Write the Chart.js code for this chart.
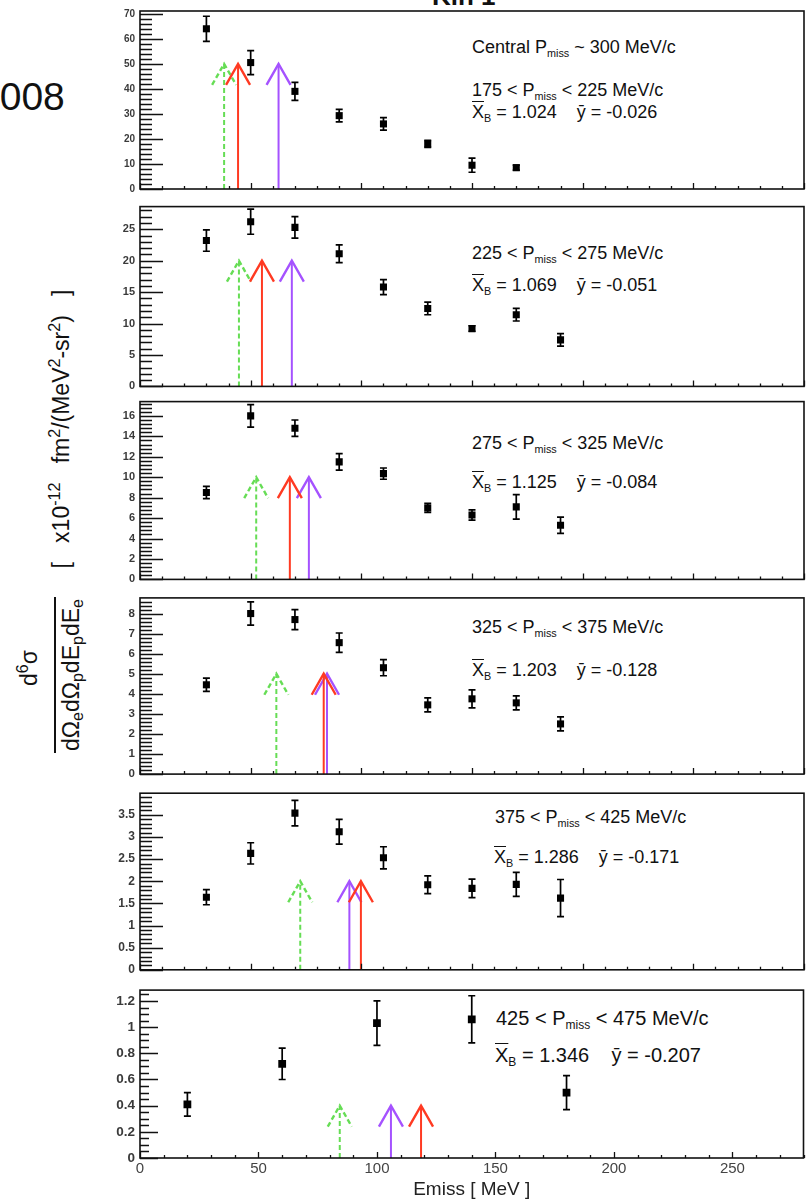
<!DOCTYPE html>
<html>
<head>
<meta charset="utf-8">
<script src="https://cdn.jsdelivr.net/npm/chart.js@4.4.1/dist/chart.umd.min.js"></script>
<style>
html, body { margin: 0; padding: 0; background: #fff; overflow: hidden; }
body { width: 809px; height: 1199px; position: relative; font-family: 'Liberation Sans', Arial, sans-serif; color: #111; }
canvas { position: absolute; }
.t { position: absolute; white-space: nowrap; line-height: 1; }
.t sub { font-size: 60%; vertical-align: -0.35em; line-height: 0; }
.rot sub { font-size: 70%; vertical-align: -0.3em; line-height: 0; }
.rot sup { font-size: 70%; vertical-align: 0.55em; line-height: 0; }
.ov { text-decoration: overline; text-decoration-thickness: 1px; }
.rot { position: absolute; white-space: nowrap; line-height: 1; transform: translate(-50%, -50%) rotate(-90deg); }
</style>
</head>
<body>

<div class="t" style="left:-22px;top:77px;font-size:39px;">2008</div>
<div class="t" style="left:432px;top:-17px;font-size:26px;font-weight:bold;">Kin 1</div>

<!-- y axis title -->
<div class="rot" style="left:61px;top:429px;font-size:23px;">[&nbsp;&nbsp;&nbsp;x10<sup>-12</sup>&nbsp;&nbsp;&nbsp;fm<sup>2</sup>/(MeV<sup>2</sup>-sr<sup>2</sup>)&nbsp;&nbsp;&nbsp;]</div>
<div class="rot" style="left:29px;top:668px;font-size:23px;">d<sup>6</sup>&sigma;</div>
<div style="position:absolute;left:54px;top:597px;width:1.6px;height:156px;background:#111;"></div>
<div class="rot" style="left:71px;top:675px;font-size:23px;">d&Omega;<sub>e</sub>d&Omega;<sub>p</sub>dE<sub>p</sub>dE<sub>e</sub></div>

<!-- panel notes -->
<div class="t" style="left:472px;top:38px;font-size:18px;">Central P<sub>miss</sub> ~ 300 MeV/c</div>
<div class="t" style="left:472px;top:81px;font-size:18px;">175 &lt; P<sub>miss</sub> &lt; 225 MeV/c</div>
<div class="t" style="left:472px;top:103px;font-size:18px;"><span class="ov">X</span><sub>B</sub> = 1.024&nbsp;&nbsp;&nbsp;&nbsp;&#563; = -0.026</div>

<div class="t" style="left:472px;top:244px;font-size:18px;">225 &lt; P<sub>miss</sub> &lt; 275 MeV/c</div>
<div class="t" style="left:472px;top:276px;font-size:18px;"><span class="ov">X</span><sub>B</sub> = 1.069&nbsp;&nbsp;&nbsp;&nbsp;&#563; = -0.051</div>

<div class="t" style="left:472px;top:434px;font-size:18px;">275 &lt; P<sub>miss</sub> &lt; 325 MeV/c</div>
<div class="t" style="left:472px;top:473px;font-size:18px;"><span class="ov">X</span><sub>B</sub> = 1.125&nbsp;&nbsp;&nbsp;&nbsp;&#563; = -0.084</div>

<div class="t" style="left:472px;top:618px;font-size:18px;">325 &lt; P<sub>miss</sub> &lt; 375 MeV/c</div>
<div class="t" style="left:472px;top:661px;font-size:18px;"><span class="ov">X</span><sub>B</sub> = 1.203&nbsp;&nbsp;&nbsp;&nbsp;&#563; = -0.128</div>

<div class="t" style="left:495px;top:808px;font-size:18px;">375 &lt; P<sub>miss</sub> &lt; 425 MeV/c</div>
<div class="t" style="left:494px;top:848px;font-size:18px;"><span class="ov">X</span><sub>B</sub> = 1.286&nbsp;&nbsp;&nbsp;&nbsp;&#563; = -0.171</div>

<div class="t" style="left:496px;top:1008px;font-size:20px;">425 &lt; P<sub>miss</sub> &lt; 475 MeV/c</div>
<div class="t" style="left:495px;top:1045px;font-size:20px;"><span class="ov">X</span><sub>B</sub> = 1.346&nbsp;&nbsp;&nbsp;&nbsp;&#563; = -0.207</div>

<script>
// Emiss values of the points (MeV)
const upperX = [30, 50, 70, 90, 110, 130, 150, 170, 190];
const lowerX = [20, 60, 100, 140, 180];

// cross sections, one pair of arrays per Pmiss bin
const p1Val = [64, 50.5, 39, 29.3, 26, 18, 9.5, 8.5];
const p1Err = [5, 4.8, 3.6, 2.5, 2.5, 1.4, 2.8, 1.0];
const p2Val = [23.2, 26.2, 25.3, 21.1, 15.8, 12.4, 9.2, 11.4, 7.4];
const p2Err = [1.7, 2.0, 1.7, 1.4, 1.2, 1.0, 0.45, 1.0, 1.0];
const p3Val = [8.5, 16.0, 14.8, 11.5, 10.35, 7.0, 6.3, 7.1, 5.3];
const p3Err = [0.6, 1.1, 0.8, 0.8, 0.55, 0.45, 0.5, 1.2, 0.8];
const p4Val = [4.45, 8.0, 7.7, 6.55, 5.3, 3.45, 3.75, 3.55, 2.5];
const p4Err = [0.33, 0.58, 0.5, 0.48, 0.4, 0.35, 0.45, 0.35, 0.35];
const p5Val = [1.64, 2.63, 3.54, 3.12, 2.53, 1.92, 1.84, 1.93, 1.62];
const p5Err = [0.17, 0.24, 0.29, 0.28, 0.25, 0.2, 0.21, 0.27, 0.42];
const p6Val = [0.41, 0.72, 1.03, 1.06, 0.5];
const p6Err = [0.09, 0.12, 0.17, 0.18, 0.13];

// arrow positions (Emiss) and arrow heights
const greenArrow = [38, 44.7, 52.5, 61.6, 72.4, 84.3];
const redArrow = [44.3, 55.1, 67.7, 83, 99.8, 118.6];
const purpleArrow = [62.6, 68.6, 76.3, 84.5, 94.6, 105.9];
const arrowTip = [50, 20, 10, 5, 2, 0.4];

// axes
const yMax = [71.1, 28.6, 17.4, 8.78, 3.99, 1.283];
const yTicks = [
    [0, 10, 20, 30, 40, 50, 60, 70],
    [0, 5, 10, 15, 20, 25],
    [0, 2, 4, 6, 8, 10, 12, 14, 16],
    [0, 1, 2, 3, 4, 5, 6, 7, 8],
    [0, 0.5, 1, 1.5, 2, 2.5, 3, 3.5],
    [0, 0.2, 0.4, 0.6, 0.8, 1, 1.2]
];
const yMinor = [2, 1, 0.4, 0.2, 0.1, 0.05];
const xTicks = [0, 50, 100, 150, 200, 250];
const xMaxUpper = 300;
const xMaxLower = 280;

const panelX = [upperX, upperX, upperX, upperX, upperX, lowerX];
const panelVal = [p1Val, p2Val, p3Val, p4Val, p5Val, p6Val];
const panelErr = [p1Err, p2Err, p3Err, p4Err, p5Err, p6Err];

// layout: frame top / bottom of each pad in page pixels
const frames = [[10, 198], [205, 396], [400, 589], [596, 784], [791, 980], [987, 1158]];
const labelSize = [10, 11, 11, 11.5, 12, 13.5];

function drawArrow(ctx, x, yBase, yTip, color, dashed) {
    ctx.save();
    ctx.strokeStyle = color;
    ctx.lineWidth = 2;
    ctx.setLineDash(dashed ? [5, 3] : []);
    ctx.beginPath();
    ctx.moveTo(x, yBase);
    ctx.lineTo(x, yTip);
    ctx.stroke();
    ctx.lineWidth = 2.4;
    ctx.beginPath();
    ctx.moveTo(x - 12, yTip + 21);
    ctx.lineTo(x, yTip);
    ctx.lineTo(x + 12, yTip + 21);
    ctx.stroke();
    ctx.restore();
}

function makePanel(i) {
    const last = i === 5;
    const top = frames[i][0], bottom = frames[i][1];
    const padTop = 10;
    const xAxisH = last ? 43 : 0;
    const padBottom = last ? 0 : 2;
    const canvas = document.createElement('canvas');
    canvas.width = 709;
    canvas.height = bottom - top + padTop + xAxisH + padBottom;
    canvas.style.left = '100px';
    canvas.style.top = (top - padTop) + 'px';
    document.body.appendChild(canvas);

    const xs = panelX[i], vals = panelVal[i], errs = panelErr[i];

    const rootStyle = {
        id: 'rootStyle' + i,
        afterDatasetsDraw(chart) {
            const ctx = chart.ctx;
            const sx = chart.scales.x, sy = chart.scales.y;
            const area = chart.chartArea;

            // error bars
            ctx.save();
            ctx.strokeStyle = '#000';
            ctx.lineWidth = 1.7;
            xs.forEach((x, k) => {
                if (vals[k] === undefined) return;
                const px = sx.getPixelForValue(x);
                const hi = sy.getPixelForValue(vals[k] + errs[k]);
                const lo = sy.getPixelForValue(vals[k] - errs[k]);
                ctx.beginPath();
                ctx.moveTo(px, hi); ctx.lineTo(px, lo);
                ctx.moveTo(px - 3.5, hi); ctx.lineTo(px + 3.5, hi);
                ctx.moveTo(px - 3.5, lo); ctx.lineTo(px + 3.5, lo);
                ctx.stroke();
            });
            ctx.restore();

            // arrows
            const base = sy.getPixelForValue(0);
            const tip = sy.getPixelForValue(arrowTip[i]);
            drawArrow(ctx, sx.getPixelForValue(greenArrow[i]), base, tip, '#66dd55', true);
            drawArrow(ctx, sx.getPixelForValue(purpleArrow[i]), base, tip, '#a552ff', false);
            drawArrow(ctx, sx.getPixelForValue(redArrow[i]), base, tip, '#ff3a22', false);

            // ROOT style ticks inside the pad
            ctx.save();
            ctx.strokeStyle = '#111';
            ctx.lineWidth = 1.3;
            const majLen = last ? 18 : 23, minLen = last ? 9 : 12;
            const nMinor = Math.floor(yMax[i] / yMinor[i] + 1e-6);
            ctx.beginPath();
            for (let k = 0; k <= nMinor; k++) {
                const v = k * yMinor[i];
                const isMajor = yTicks[i].some(t => Math.abs(t - v) < 1e-6);
                const py = Math.round(sy.getPixelForValue(v)) + 0.5;
                ctx.moveTo(area.left, py);
                ctx.lineTo(area.left + (isMajor ? majLen : minLen), py);
            }
            const xMax = sx.max;
            for (let v = 0; v <= xMax; v += 10) {
                const px = Math.round(sx.getPixelForValue(v)) + 0.5;
                ctx.moveTo(px, area.bottom);
                ctx.lineTo(px, area.bottom - (v % 50 === 0 ? 6 : 3));
            }
            ctx.stroke();

            // pad frame
            ctx.lineWidth = 1.6;
            ctx.strokeRect(area.left, area.top, area.right - area.left, area.bottom - area.top);
            ctx.restore();
        }
    };

    new Chart(canvas, {
        type: 'scatter',
        data: {
            datasets: [{
                data: xs.slice(0, vals.length).map((x, k) => ({ x: x, y: vals[k] })),
                pointStyle: 'rect',
                pointRadius: last ? 5.5 : 5,
                backgroundColor: '#000',
                borderColor: '#000',
                borderWidth: 0
            }]
        },
        options: {
            responsive: false,
            animation: false,
            devicePixelRatio: 1,
            layout: { padding: { top: padTop, right: 4, bottom: padBottom, left: 0 } },
            plugins: { legend: { display: false }, tooltip: { enabled: false } },
            scales: {
                x: {
                    type: 'linear',
                    min: 0,
                    max: last ? xMaxLower : xMaxUpper,
                    grid: { display: false, drawTicks: false },
                    border: { display: false },
                    ticks: {
                        display: last,
                        padding: 2,
                        color: '#444',
                        font: { family: 'Liberation Sans', size: 15 },
                        maxRotation: 0
                    },
                    afterBuildTicks: s => { s.ticks = xTicks.map(v => ({ value: v })); },
                    afterFit: s => { s.height = xAxisH; },
                    title: {
                        display: last,
                        text: 'Emiss [ MeV ]',
                        color: '#222',
                        font: { family: 'Liberation Sans', size: 19 },
                        padding: { top: 0, bottom: 0 }
                    }
                },
                y: {
                    min: 0,
                    max: yMax[i],
                    grid: { display: false, drawTicks: false },
                    border: { display: false },
                    ticks: {
                        padding: 5,
                        color: '#3a3a3a',
                        font: { family: 'Liberation Sans', size: labelSize[i], weight: 'bold' },
                        callback: v => String(+v.toFixed(3))
                    },
                    afterBuildTicks: s => { s.ticks = yTicks[i].map(v => ({ value: v })); },
                    afterFit: s => { s.width = 40; }
                }
            }
        },
        plugins: [rootStyle]
    });
}

for (let i = 0; i < 6; i++) makePanel(i);
</script>
</body>
</html>
